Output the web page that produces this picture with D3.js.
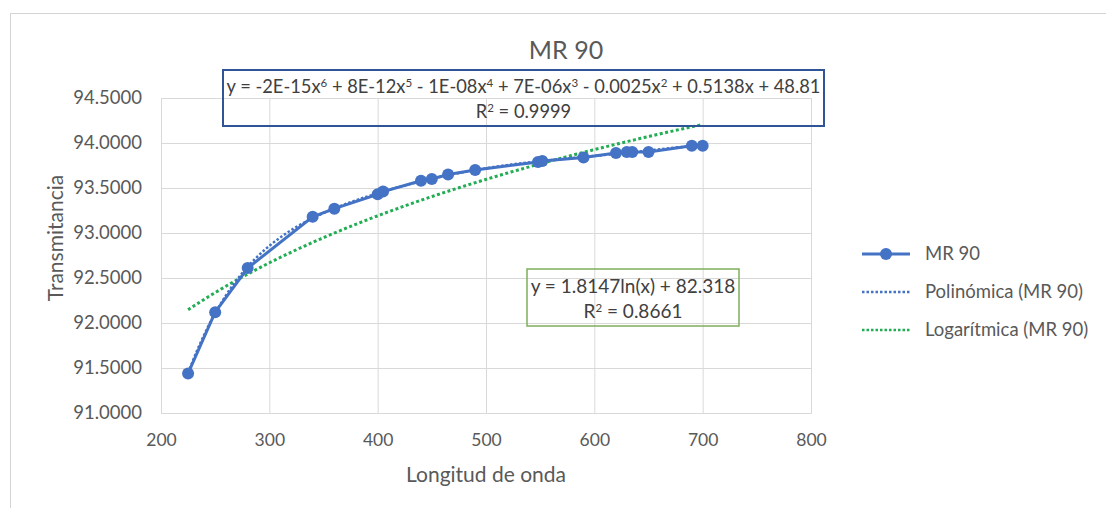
<!DOCTYPE html>
<html>
<head>
<meta charset="utf-8">
<script src="https://cdn.jsdelivr.net/npm/d3@7"></script>
<style>
  body { margin: 0; background: #fff; }
  text { font-family: Lato, "Open Sans", sans-serif; fill: #595959; }
</style>
</head>
<body>
<div id="chart"></div>
<script>
// data
var wavelength = [225, 250, 280, 340, 360, 400, 405, 440, 450, 465, 490, 548, 552, 590, 620, 630, 635, 650, 690, 700];
var transmit = [91.44, 92.12, 92.61, 93.18, 93.27, 93.43, 93.46, 93.58, 93.60, 93.65, 93.70, 93.79, 93.80, 93.84, 93.89, 93.90, 93.90, 93.90, 93.97, 93.97];
var xTicks = [200, 300, 400, 500, 600, 700, 800];
var yTicks = [91.0, 91.5, 92.0, 92.5, 93.0, 93.5, 94.0, 94.5];
var logCoef = [1.8147, 82.318]; // y = a ln(x) + b
var legendNames = ["MR 90", "Polinómica (MR 90)", "Logarítmica (MR 90)"];

var data = wavelength.map(function (d, i) {
    return { x: d, y: transmit[i] };
});

var W = 1106, H = 508;
var plot = { left: 161, right: 811, top: 98, bottom: 413 };

var x = d3.scaleLinear().domain([200, 800]).range([plot.left, plot.right]);
var y = d3.scaleLinear().domain([91, 94.5]).range([plot.bottom, plot.top]);

var svg = d3.select("#chart").append("svg")
    .attr("width", W)
    .attr("height", H);

// outer chart frame (runs off the page on right/bottom)
svg.append("rect")
    .attr("x", 10.5).attr("y", 13.5)
    .attr("width", W).attr("height", H)
    .attr("fill", "#fff")
    .attr("stroke", "#d4d4d4");

// grid
svg.append("g")
    .attr("transform", "translate(0," + plot.bottom + ")")
    .call(d3.axisBottom(x).tickValues(xTicks).tickSize(plot.top - plot.bottom).tickFormat(function (d) { return d; }))
    .call(function (g) {
        g.select(".domain").attr("stroke", "#d9d9d9");
        g.selectAll(".tick line").attr("stroke", "#d9d9d9");
        g.selectAll(".tick text")
            .attr("y", 27)
            .attr("dy", "0.32em")
            .attr("fill", "#595959")
            .style("font-size", "17.5px");
    });

svg.append("g")
    .attr("transform", "translate(" + plot.left + ",0)")
    .call(d3.axisLeft(y).tickValues(yTicks).tickSize(plot.left - plot.right).tickFormat(d3.format(".4f")))
    .call(function (g) {
        g.select(".domain").attr("stroke", "#d9d9d9");
        g.selectAll(".tick line").attr("stroke", "#d9d9d9");
        g.selectAll(".tick text")
            .attr("x", -19)
            .attr("fill", "#595959")
            .style("font-size", "18.5px");
    });

// title + axis titles
svg.append("text")
    .attr("x", 566).attr("y", 50)
    .attr("text-anchor", "middle")
    .attr("dy", "0.35em")
    .style("font-size", "25px")
    .text("MR 90");

svg.append("text")
    .attr("x", 486).attr("y", 475)
    .attr("text-anchor", "middle")
    .attr("dy", "0.35em")
    .style("font-size", "21px")
    .text("Longitud de onda");

svg.append("text")
    .attr("transform", "translate(56,238) rotate(-90)")
    .attr("text-anchor", "middle")
    .attr("dy", "0.35em")
    .style("font-size", "21px")
    .text("Transmitancia");

// polynomial trendline: least squares fit, order 6 (like the spreadsheet does)
function polyFit(xs, ys, order) {
    var n = order + 1;
    var A = [], b = [];
    for (var i = 0; i < n; i++) {
        A.push(new Array(n).fill(0));
        b.push(0);
    }
    xs.forEach(function (xv, k) {
        for (var i = 0; i < n; i++) {
            b[i] += Math.pow(xv, i) * ys[k];
            for (var j = 0; j < n; j++) A[i][j] += Math.pow(xv, i + j);
        }
    });
    for (var c = 0; c < n; c++) {
        var p = c;
        for (var r = c + 1; r < n; r++) if (Math.abs(A[r][c]) > Math.abs(A[p][c])) p = r;
        var t = A[c]; A[c] = A[p]; A[p] = t;
        var tb = b[c]; b[c] = b[p]; b[p] = tb;
        for (var r2 = c + 1; r2 < n; r2++) {
            var f = A[r2][c] / A[c][c];
            for (var j2 = c; j2 < n; j2++) A[r2][j2] -= f * A[c][j2];
            b[r2] -= f * b[c];
        }
    }
    var coef = new Array(n).fill(0);
    for (var i2 = n - 1; i2 >= 0; i2--) {
        var s = b[i2];
        for (var j3 = i2 + 1; j3 < n; j3++) s -= A[i2][j3] * coef[j3];
        coef[i2] = s / A[i2][i2];
    }
    return coef;
}

var x0 = 460, xs = 240; // normalise x so the fit stays stable
var pc = polyFit(wavelength.map(function (d) { return (d - x0) / xs; }), transmit, 6);
var xMin = d3.min(wavelength), xMax = d3.max(wavelength);
var trendX = d3.range(xMin, xMax + 0.1, 2);

var polyLine = trendX.map(function (v) {
    var t = (v - x0) / xs, s = 0;
    pc.forEach(function (c, i) { s += c * Math.pow(t, i); });
    return { x: v, y: s };
});
var logLine = trendX.map(function (v) {
    return { x: v, y: logCoef[0] * Math.log(v) + logCoef[1] };
});

var line = d3.line()
    .x(function (d) { return x(d.x); })
    .y(function (d) { return y(d.y); });

svg.append("path")
    .datum(logLine)
    .attr("d", line)
    .attr("fill", "none")
    .attr("stroke", "#22ad55")
    .attr("stroke-width", 3)
    .attr("stroke-dasharray", "3,2.5");

svg.append("path")
    .datum(polyLine)
    .attr("d", line)
    .attr("fill", "none")
    .attr("stroke", "#4472c4")
    .attr("stroke-width", 2.5)
    .attr("stroke-dasharray", "2.5,2");

// data series
svg.append("path")
    .datum(data)
    .attr("d", line)
    .attr("fill", "none")
    .attr("stroke", "#4472c4")
    .attr("stroke-width", 3);

svg.selectAll("circle.pt")
    .data(data)
    .enter().append("circle")
    .attr("class", "pt")
    .attr("cx", function (d) { return x(d.x); })
    .attr("cy", function (d) { return y(d.y); })
    .attr("r", 6)
    .attr("fill", "#4472c4");

// equation labels
function eqBox(bx, by, bw, bh, stroke, sw, fs, lines) {
    var g = svg.append("g");
    g.append("rect")
        .attr("x", bx).attr("y", by)
        .attr("width", bw).attr("height", bh)
        .attr("fill", "none")
        .attr("stroke", stroke)
        .attr("stroke-width", sw);
    lines.forEach(function (parts, i) {
        var t = g.append("text")
            .attr("x", bx + bw / 2)
            .attr("y", by + 17 + i * 25)
            .attr("text-anchor", "middle")
            .attr("dy", "0.35em")
            .style("font-size", fs + "px")
            .style("fill", "#404040");
        parts.forEach(function (p) {
            var ts = t.append("tspan").text(p[0]);
            if (p[1]) ts.attr("baseline-shift", "super").style("font-size", "11.5px");
        });
    });
}

eqBox(223, 70, 601, 56, "#2f5597", 2, 18.3, [
    [["y = -2E-15x"], ["6", 1], [" + 8E-12x"], ["5", 1], [" - 1E-08x"], ["4", 1], [" + 7E-06x"], ["3", 1],
     [" - 0.0025x"], ["2", 1], [" + 0.5138x + 48.81"]],
    [["R"], ["2", 1], [" = 0.9999"]]
]);

eqBox(527, 269, 212, 57, "#7fae5c", 1.5, 19, [
    [["y = 1.8147ln(x) + 82.318"]],
    [["R"], ["2", 1], [" = 0.8661"]]
]);

// legend
var legend = svg.append("g").attr("transform", "translate(862,254)");
legendNames.forEach(function (name, i) {
    var g = legend.append("g").attr("transform", "translate(0," + (i * 38) + ")");
    var ln = g.append("line")
        .attr("x1", 0).attr("x2", 48)
        .attr("y1", 0).attr("y2", 0);
    if (i === 0) {
        ln.attr("stroke", "#4472c4").attr("stroke-width", 3);
        g.append("circle").attr("cx", 24).attr("r", 6).attr("fill", "#4472c4");
    } else {
        ln.attr("stroke", i === 1 ? "#4472c4" : "#22ad55")
            .attr("stroke-width", 2.5)
            .attr("stroke-dasharray", "2.5,2");
    }
    g.append("text")
        .attr("x", 63)
        .attr("dy", "0.35em")
        .style("font-size", "18.5px")
        .text(name);
});
</script>
</body>
</html>
